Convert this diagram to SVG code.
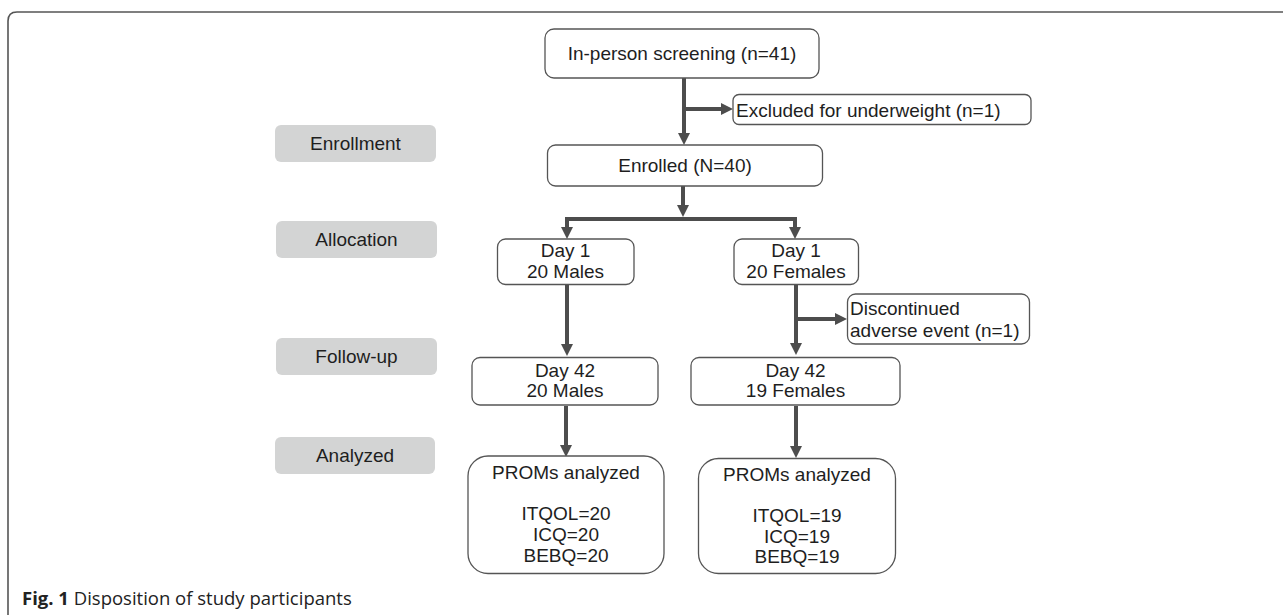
<svg xmlns="http://www.w3.org/2000/svg" width="1283" height="615" viewBox="0 0 1283 615">
<style>
.box{fill:#fff;stroke:#555;stroke-width:1.3}
.lab{fill:#d3d4d4;stroke:none}
.t{font-family:"Liberation Sans",Arial,sans-serif;font-size:19px;fill:#1e1e1e}
.c{text-anchor:middle}
.ln{fill:none;stroke:#4d4d4d;stroke-width:4}
.cap{font-family:"Open Sans","Noto Sans",sans-serif;font-size:18.5px;fill:#222}
</style>
<defs>
<marker id="ah" markerUnits="userSpaceOnUse" markerWidth="12" markerHeight="12" viewBox="0 0 12 12" refX="1" refY="6" orient="auto">
<path d="M0,0 L12,6 L0,12 z" fill="#4d4d4d"/>
</marker>
</defs>
<rect x="0" y="0" width="1283" height="615" fill="#fff"/>
<path d="M8,620 V21 Q8,12 17,12 H1290" fill="none" stroke="#555" stroke-width="1.6"/>

<g id="stage-enrollment"><rect class="lab" x="275" y="125" width="161" height="37" rx="6"/><text class="t c" x="355.5" y="150">Enrollment</text></g>
<g id="stage-allocation"><rect class="lab" x="276" y="221" width="161" height="37" rx="6"/><text class="t c" x="356.5" y="246">Allocation</text></g>
<g id="stage-followup"><rect class="lab" x="276" y="338" width="161" height="37" rx="6"/><text class="t c" x="356.5" y="363">Follow-up</text></g>
<g id="stage-analyzed"><rect class="lab" x="275" y="437" width="160" height="37" rx="6"/><text class="t c" x="355" y="462">Analyzed</text></g>

<g id="connectors">
<path class="ln" d="M684,78 V134" marker-end="url(#ah)"/>
<path class="ln" d="M684,109 H722" marker-end="url(#ah)"/>
<path class="ln" d="M683,186 V206" marker-end="url(#ah)"/>
<path class="ln" d="M683,219 H567 V228" marker-end="url(#ah)"/>
<path class="ln" d="M683,219 H795 V228" marker-end="url(#ah)"/>
<path class="ln" d="M567,285 V345" marker-end="url(#ah)"/>
<path class="ln" d="M796,285 V344" marker-end="url(#ah)"/>
<path class="ln" d="M796,319 H836" marker-end="url(#ah)"/>
<path class="ln" d="M566,406 V446" marker-end="url(#ah)"/>
<path class="ln" d="M796,406 V447" marker-end="url(#ah)"/>
</g>

<g id="screening"><rect class="box" x="545" y="29" width="274" height="49" rx="9"/><text class="t c" x="682" y="60">In-person screening (n=41)</text></g>
<g id="excluded"><rect class="box" x="733" y="94.5" width="298" height="30" rx="6"/><text class="t" x="736" y="116.5">Excluded for underweight (n=1)</text></g>
<g id="enrolled"><rect class="box" x="547.5" y="145" width="275" height="41" rx="8"/><text class="t c" x="685" y="172">Enrolled (N=40)</text></g>
<g id="day1-males"><rect class="box" x="497.5" y="239" width="136.5" height="45.5" rx="8"/><text class="t c" x="565.5" y="257">Day 1</text><text class="t c" x="565.5" y="277.5">20 Males</text></g>
<g id="day1-females"><rect class="box" x="734" y="239" width="124.5" height="45.5" rx="8"/><text class="t c" x="796" y="257">Day 1</text><text class="t c" x="796" y="277.5">20 Females</text></g>
<g id="discontinued"><rect class="box" x="847.5" y="294" width="182" height="50" rx="8"/><text class="t" x="850" y="315">Discontinued</text><text class="t" x="850" y="336.5">adverse event (n=1)</text></g>
<g id="day42-males"><rect class="box" x="472" y="357.5" width="186" height="47.5" rx="8"/><text class="t c" x="565" y="377">Day 42</text><text class="t c" x="565" y="397">20 Males</text></g>
<g id="day42-females"><rect class="box" x="691" y="357.5" width="209" height="47.5" rx="8"/><text class="t c" x="795.5" y="377">Day 42</text><text class="t c" x="795.5" y="397">19 Females</text></g>
<g id="proms-males"><rect class="box" x="468" y="456" width="196" height="117.5" rx="20"/><text class="t c" x="566" y="479">PROMs analyzed</text><text class="t c" x="566" y="520">ITQOL=20</text><text class="t c" x="566" y="541">ICQ=20</text><text class="t c" x="566" y="561.5">BEBQ=20</text></g>
<g id="proms-females"><rect class="box" x="698.5" y="458.5" width="197" height="115" rx="20"/><text class="t c" x="797" y="480.5">PROMs analyzed</text><text class="t c" x="797" y="521.5">ITQOL=19</text><text class="t c" x="797" y="542.5">ICQ=19</text><text class="t c" x="797" y="563">BEBQ=19</text></g>

<text class="cap" x="22" y="605"><tspan font-weight="bold">Fig. 1</tspan> Disposition of study participants</text>
</svg>
